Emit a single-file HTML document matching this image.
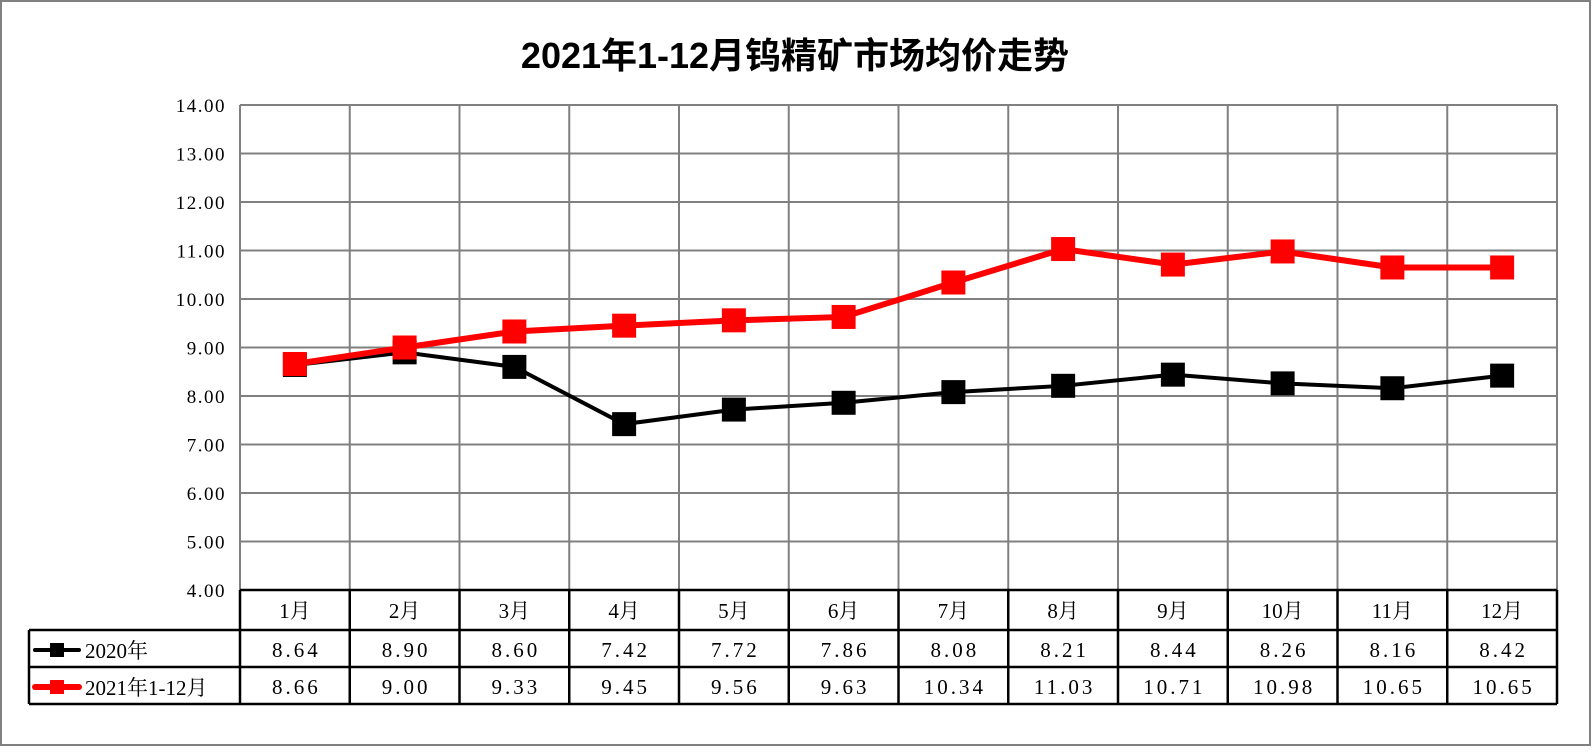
<!DOCTYPE html>
<html><head><meta charset="utf-8"><style>
body{margin:0;background:#fff;}
svg text{font-family:"Liberation Serif","Noto Serif CJK SC",serif;}
</style></head><body>
<svg width="1592" height="747" xmlns="http://www.w3.org/2000/svg">
<rect x="1" y="1" width="1589" height="744" fill="#fff" stroke="#808080" stroke-width="2"/>
<text x="795" y="68" text-anchor="middle" font-size="36" font-weight="bold" style="font-family:'Liberation Sans','Noto Sans CJK SC',sans-serif">2021年1-12月钨精矿市场均价走势</text>
<g id="grid"></g><g id="series"></g><g id="table"></g>
</svg>
<script>
const months=["1月","2月","3月","4月","5月","6月","7月","8月","9月","10月","11月","12月"];
const s2020=[8.64,8.90,8.60,7.42,7.72,7.86,8.08,8.21,8.44,8.26,8.16,8.42];
const s2021=[8.66,9.00,9.33,9.45,9.56,9.63,10.34,11.03,10.71,10.98,10.65,10.65];
const yTicks=[4,5,6,7,8,9,10,11,12,13,14];
const seriesNames=["2020年","2021年1-12月"];
const NS="http://www.w3.org/2000/svg";
const L=240,R=1557,T=105,B=590,yMin=4,yMax=14;
const cw=(R-L)/months.length;
const y=v=>B-(v-yMin)/(yMax-yMin)*(B-T);
const xc=i=>L+cw*(i+0.5);
function mk(p,tag,a){const e=document.createElementNS(NS,tag);for(const k in a)e.setAttribute(k,a[k]);p.appendChild(e);return e;}
const g=document.getElementById('grid');
yTicks.forEach(t=>{
 const ln=mk(g,'line',{x1:L,x2:R,y1:y(t),y2:y(t),stroke:'#808080','stroke-width':2});
 
 
 const tx=mk(g,'text',{x:226,y:y(t)+7,'text-anchor':'end','font-size':19,'letter-spacing':1.5});
 tx.textContent=t.toFixed(2);
 
 
});
for(let i=0;i<=months.length;i++){
 const ln=mk(g,'line',{x1:L+cw*i,x2:L+cw*i,y1:T,y2:B,stroke:'#808080','stroke-width':2});
 
 
}
const sg=document.getElementById('series');
function drawSeries(data,color,w,name){
 const pl=mk(sg,'polyline',{points:data.map((v,i)=>xc(i)+','+y(v)).join(' '),fill:'none',stroke:color,'stroke-width':w});
 
 
 data.forEach((v,i)=>{
  const r=mk(sg,'rect',{x:xc(i)-12,y:y(v)-12,width:24,height:24,fill:color});
  
  
 });
}
drawSeries(s2020,'#000',4,'series-2020');
drawSeries(s2021,'#ff0000',6,'series-2021');
const tg=document.getElementById('table');
const rows=[590,630,667,704];
mk(tg,'line',{x1:L,x2:R,y1:rows[0],y2:rows[0],stroke:'#000','stroke-width':2.5});
[1,2,3].forEach(k=>mk(tg,'line',{x1:29,x2:R,y1:rows[k],y2:rows[k],stroke:'#000','stroke-width':2.5}));
mk(tg,'line',{x1:29,x2:29,y1:rows[1],y2:rows[3],stroke:'#000','stroke-width':2.5});
for(let i=0;i<=months.length;i++)mk(tg,'line',{x1:L+cw*i,x2:L+cw*i,y1:rows[0],y2:rows[3],stroke:'#000','stroke-width':2.5});
months.forEach((m,i)=>{
 const t=mk(tg,'text',{x:xc(i),y:618,'text-anchor':'middle','font-size':21});t.textContent=m;
 
 
 const a=mk(tg,'text',{x:xc(i)+1.5,y:657,'text-anchor':'middle','font-size':21,'letter-spacing':3});a.textContent=s2020[i].toFixed(2);
 
 
 const b=mk(tg,'text',{x:xc(i)+1.5,y:694,'text-anchor':'middle','font-size':21,'letter-spacing':3});b.textContent=s2021[i].toFixed(2);
 
 
});
[[650,'#000',4,seriesNames[0]],[687,'#ff0000',6,seriesNames[1]]].forEach(([yy,c,w,n],k)=>{
 mk(tg,'line',{x1:35,x2:79,y1:yy,y2:yy,stroke:c,'stroke-width':w,'stroke-linecap':'round'});
 mk(tg,'rect',{x:50,y:yy-7,width:14,height:14,fill:c});
 const t=mk(tg,'text',{x:85,y:yy+8,'font-size':21});t.textContent=n;
 
 
});
</script>
</body></html>
